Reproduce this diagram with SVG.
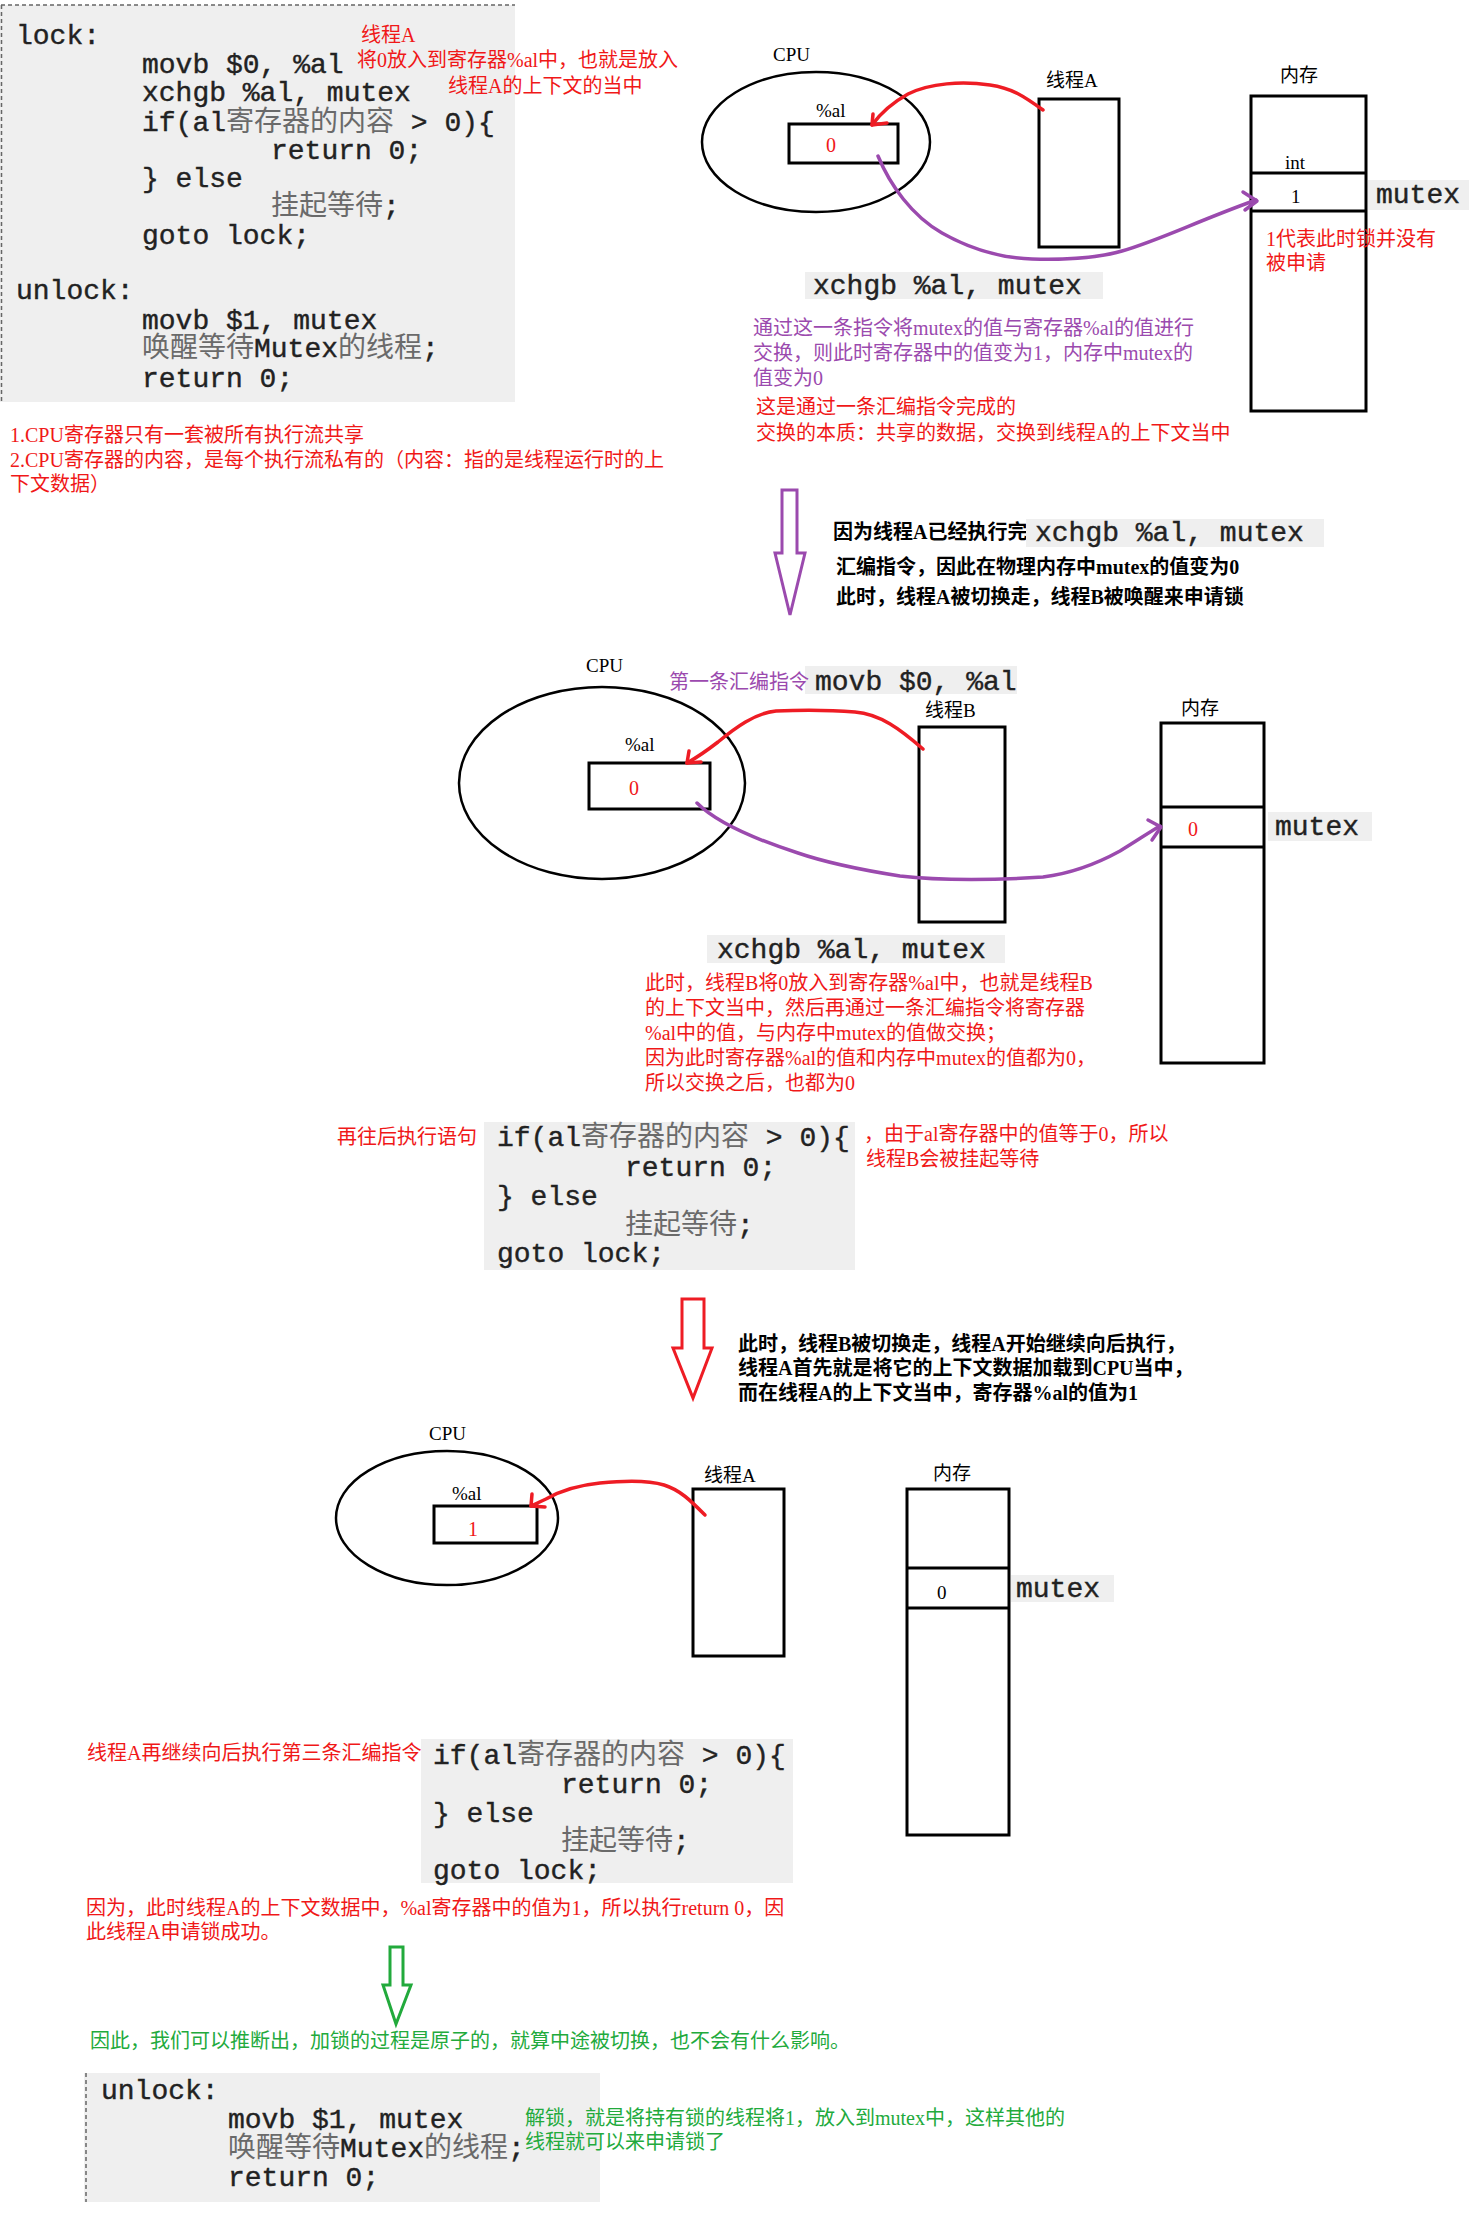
<svg xmlns="http://www.w3.org/2000/svg" width="1469" height="2213" viewBox="0 0 1469 2213">
<defs>
<style>
.code{font-family:"Liberation Mono","Noto Sans CJK SC",monospace;font-size:28px;fill:#222;stroke:#222;stroke-width:0.4}
.cj{font-family:"Noto Sans CJK SC",sans-serif;fill:#6a6a6a;stroke:none}
.ann{font-family:"Liberation Serif","Noto Sans CJK SC",serif;font-size:20px}
.lbl{font-family:"Liberation Serif","Noto Sans CJK SC",serif;font-size:19px;fill:#000}
.red{fill:#f01818}
.pur{fill:#9b4aae}
.grn{fill:#22aa3c}
.blk{fill:#000;font-weight:bold}
.bg{fill:#efefef}
.box{fill:none;stroke:#000;stroke-width:3}
.cpu{fill:none;stroke:#000;stroke-width:2.5}
.rline{fill:none;stroke:#ee1c24;stroke-width:3.5;stroke-linecap:round;stroke-linejoin:round}
.pline{fill:none;stroke:#9b4aae;stroke-width:3.5;stroke-linecap:round;stroke-linejoin:round}
.dash{fill:none;stroke:#666;stroke-width:1.5;stroke-dasharray:4 3}
</style>
</defs>
<rect width="1469" height="2213" fill="#fff"/>

<!-- Section 1: lock/unlock code -->
<g id="code-lock">
<rect class="bg" x="0" y="5" width="515" height="397"/>
<path class="dash" d="M1,5 H515 M1.5,5 V402"/>
<text class="code" x="16" y="44">lock:</text>
<text class="code" x="142" y="73">movb $0, %al</text>
<text class="code" x="142" y="101">xchgb %al, mutex</text>
<text class="code" x="142" y="131">if(al<tspan class="cj">寄存器的内容</tspan> &gt; 0){</text>
<text class="code" x="271" y="159">return 0;</text>
<text class="code" x="142" y="187">} else</text>
<text class="code" x="271" y="215"><tspan class="cj">挂起等待</tspan>;</text>
<text class="code" x="142" y="244">goto lock;</text>
<text class="code" x="16" y="299">unlock:</text>
<text class="code" x="142" y="329">movb $1, mutex</text>
<text class="code" x="142" y="357"><tspan class="cj">唤醒等待</tspan>Mutex<tspan class="cj">的线程</tspan>;</text>
<text class="code" x="142" y="387">return 0;</text>
</g>
<g id="note-threadA">
<text class="ann red" x="361" y="42">线程A</text>
<text class="ann red" x="357" y="67">将0放入到寄存器%al中，也就是放入</text>
<text class="ann red" x="448" y="93">线程A的上下文的当中</text>
</g>
<g id="note-cpu">
<text class="ann red" x="10" y="442">1.CPU寄存器只有一套被所有执行流共享</text>
<text class="ann red" x="10" y="467">2.CPU寄存器的内容，是每个执行流私有的（内容：指的是线程运行时的上</text>
<text class="ann red" x="10" y="491">下文数据）</text>
</g>

<!-- Section 1 diagram -->
<g id="cpu1">
<text class="lbl" x="773" y="61">CPU</text>
<ellipse class="cpu" cx="816" cy="142" rx="114" ry="70"/>
<text class="lbl" x="816" y="117">%al</text>
<rect class="box" x="789" y="124" width="109" height="39"/>
<text class="ann red" x="826" y="152">0</text>
</g>
<g id="threadA1">
<text class="lbl" x="1046" y="87">线程A</text>
<rect class="box" x="1039" y="99" width="80" height="148"/>
</g>
<g id="mem1">
<text class="lbl" x="1280" y="82">内存</text>
<rect class="box" x="1251" y="96" width="115" height="315"/>
<line class="box" x1="1251" y1="173" x2="1366" y2="173"/>
<line class="box" x1="1251" y1="211" x2="1366" y2="211"/>
<text class="lbl" x="1285" y="169">int</text>
<text class="lbl" x="1291" y="203">1</text>
<rect class="bg" x="1368" y="180" width="101" height="30"/>
<text class="code" x="1376" y="203">mutex</text>
<text class="ann red" x="1266" y="246">1代表此时锁并没有</text>
<text class="ann red" x="1266" y="270">被申请</text>
</g>
<g id="note-xchg1">
<rect class="bg" x="805" y="272" width="298" height="27"/>
<text class="code" x="813" y="294">xchgb %al, mutex</text>
<text class="ann pur" x="753" y="335">通过这一条指令将mutex的值与寄存器%al的值进行</text>
<text class="ann pur" x="753" y="360">交换，则此时寄存器中的值变为1，内存中mutex的</text>
<text class="ann pur" x="753" y="385">值变为0</text>
<text class="ann red" x="756" y="414">这是通过一条汇编指令完成的</text>
<text class="ann red" x="756" y="440">交换的本质：共享的数据，交换到线程A的上下文当中</text>
</g>

<!-- Section 2 -->
<g id="note-switch1">
<text class="ann blk" x="833" y="539">因为线程A已经执行完</text>
<rect class="bg" x="1026" y="519" width="298" height="28"/>
<text class="code" x="1035" y="541">xchgb %al, mutex</text>
<text class="ann blk" x="836" y="574">汇编指令，因此在物理内存中mutex的值变为0</text>
<text class="ann blk" x="836" y="604">此时，线程A被切换走，线程B被唤醒来申请锁</text>
</g>

<!-- Section 3 -->
<g id="cpu2">
<text class="lbl" x="586" y="672">CPU</text>
<ellipse class="cpu" cx="602" cy="783" rx="143" ry="96"/>
<text class="lbl" x="625" y="751">%al</text>
<rect class="box" x="589" y="763" width="121" height="46"/>
<text class="ann red" x="629" y="795">0</text>
</g>
<g id="note-movb">
<rect class="bg" x="805" y="666" width="212" height="28"/>
<text class="ann pur" x="669" y="689">第一条汇编指令</text>
<text class="code" x="815" y="690">movb $0, %al</text>
</g>
<g id="threadB">
<text class="lbl" x="925" y="717">线程B</text>
<rect class="box" x="919" y="727" width="86" height="195"/>
</g>
<g id="mem2">
<text class="lbl" x="1181" y="715">内存</text>
<rect class="box" x="1161" y="723" width="103" height="340"/>
<line class="box" x1="1161" y1="807" x2="1264" y2="807"/>
<line class="box" x1="1161" y1="847" x2="1264" y2="847"/>
<text class="ann red" x="1188" y="836">0</text>
<rect class="bg" x="1268" y="812" width="104" height="29"/>
<text class="code" x="1275" y="835">mutex</text>
</g>
<g id="note-xchg2">
<rect class="bg" x="707" y="935" width="298" height="28"/>
<text class="code" x="717" y="958">xchgb %al, mutex</text>
<text class="ann red" x="645" y="990">此时，线程B将0放入到寄存器%al中，也就是线程B</text>
<text class="ann red" x="645" y="1015">的上下文当中，然后再通过一条汇编指令将寄存器</text>
<text class="ann red" x="645" y="1040">%al中的值，与内存中mutex的值做交换；</text>
<text class="ann red" x="645" y="1065">因为此时寄存器%al的值和内存中mutex的值都为0，</text>
<text class="ann red" x="645" y="1090">所以交换之后，也都为0</text>
</g>

<!-- Section 4 -->
<g id="code-if-B">
<text class="ann red" x="337" y="1144">再往后执行语句</text>
<rect class="bg" x="484" y="1122" width="371" height="148"/>
<text class="code" x="497" y="1146">if(al<tspan class="cj">寄存器的内容</tspan> &gt; 0){</text>
<text class="code" x="625" y="1176">return 0;</text>
<text class="code" x="497" y="1205">} else</text>
<text class="code" x="625" y="1234"><tspan class="cj">挂起等待</tspan>;</text>
<text class="code" x="497" y="1262">goto lock;</text>
<text class="ann red" x="864" y="1141">，由于al寄存器中的值等于0，所以</text>
<text class="ann red" x="866" y="1166">线程B会被挂起等待</text>
</g>
<g id="note-switch2">
<text class="ann blk" x="738" y="1351">此时，线程B被切换走，线程A开始继续向后执行，</text>
<text class="ann blk" x="738" y="1375">线程A首先就是将它的上下文数据加载到CPU当中，</text>
<text class="ann blk" x="738" y="1400">而在线程A的上下文当中，寄存器%al的值为1</text>
</g>

<!-- Section 5 -->
<g id="cpu3">
<text class="lbl" x="429" y="1440">CPU</text>
<ellipse class="cpu" cx="447" cy="1518" rx="111" ry="67"/>
<text class="lbl" x="452" y="1500">%al</text>
<rect class="box" x="434" y="1506" width="103" height="37"/>
<text class="ann red" x="468" y="1536">1</text>
</g>
<g id="threadA2">
<text class="lbl" x="704" y="1482">线程A</text>
<rect class="box" x="693" y="1489" width="91" height="167"/>
</g>
<g id="mem3">
<text class="lbl" x="933" y="1480">内存</text>
<rect class="box" x="907" y="1489" width="102" height="346"/>
<line class="box" x1="907" y1="1568" x2="1009" y2="1568"/>
<line class="box" x1="907" y1="1608" x2="1009" y2="1608"/>
<text class="lbl" x="937" y="1599">0</text>
<rect class="bg" x="1011" y="1575" width="103" height="27"/>
<text class="code" x="1016" y="1597">mutex</text>
</g>
<g id="code-if-A">
<text class="ann red" x="87" y="1760">线程A再继续向后执行第三条汇编指令：</text>
<rect class="bg" x="421" y="1739" width="372" height="144"/>
<text class="code" x="433" y="1764">if(al<tspan class="cj">寄存器的内容</tspan> &gt; 0){</text>
<text class="code" x="561" y="1793">return 0;</text>
<text class="code" x="433" y="1822">} else</text>
<text class="code" x="561" y="1850"><tspan class="cj">挂起等待</tspan>;</text>
<text class="code" x="433" y="1879">goto lock;</text>
</g>

<!-- Section 6 -->
<g id="note-success">
<text class="ann red" x="86" y="1915">因为，此时线程A的上下文数据中，%al寄存器中的值为1，所以执行return 0，因</text>
<text class="ann red" x="86" y="1939">此线程A申请锁成功。</text>
</g>
<g id="note-atomic">
<text class="ann grn" x="90" y="2048">因此，我们可以推断出，加锁的过程是原子的，就算中途被切换，也不会有什么影响。</text>
</g>
<g id="code-unlock">
<rect class="bg" x="84" y="2073" width="516" height="129"/>
<path class="dash" d="M86,2073 V2202"/>
<text class="code" x="101" y="2099">unlock:</text>
<text class="code" x="228" y="2128">movb $1, mutex</text>
<text class="code" x="228" y="2157"><tspan class="cj">唤醒等待</tspan>Mutex<tspan class="cj">的线程</tspan>;</text>
<text class="code" x="228" y="2186">return 0;</text>
<text class="ann grn" x="525" y="2125">解锁，就是将持有锁的线程将1，放入到mutex中，这样其他的</text>
<text class="ann grn" x="525" y="2149">线程就可以来申请锁了</text>
</g>

<!-- Connectors -->
<g id="connectors">
<path class="rline" d="M1043,110 C1025,97 1012,88 990,85 C962,81 930,83 908,94 C890,104 880,114 872,125"/>
<path class="rline" d="M873,114 L872,125 L887,123"/>
<path class="pline" d="M878,156 C890,185 912,216 942,233 C972,250 1002,258 1032,259 C1066,260 1098,258 1122,251 C1160,240 1195,222 1256,200"/>
<path class="pline" d="M1243,192 L1257,201 L1245,210"/>
<path fill="none" stroke="#9b4aae" stroke-width="3" d="M782,490 H797 V553 H805 L790,615 L775,553 H782 Z"/>
<path class="rline" d="M923,749 C900,729 880,714 855,712 C830,710 800,710 776,711 C755,713 735,728 718,742 C705,752 696,758 687,763"/>
<path class="rline" d="M689,751 L687,763 L701,762"/>
<path class="pline" d="M697,803 C712,818 742,835 798,853 C830,864 862,870 900,876 C942,881 1000,880 1043,877 C1075,873 1100,862 1120,851 C1138,840 1148,833 1160,826"/>
<path class="pline" d="M1148,820 L1161,827 L1152,840"/>
<path fill="none" stroke="#ee1c24" stroke-width="3" d="M682,1299 H704 V1348 H712 L693,1398 L673,1348 H682 Z"/>
<path class="rline" d="M705,1515 C690,1500 680,1490 664,1485 C648,1480 620,1481 600,1483 C580,1485 560,1491 546,1499 L531,1506"/>
<path class="rline" d="M532,1494 L531,1506 L545,1507"/>
<path fill="none" stroke="#22aa3c" stroke-width="3" d="M390,1947 H403 V1985 H411 L396,2024 L383,1985 H390 Z"/>
</g>
</svg>
